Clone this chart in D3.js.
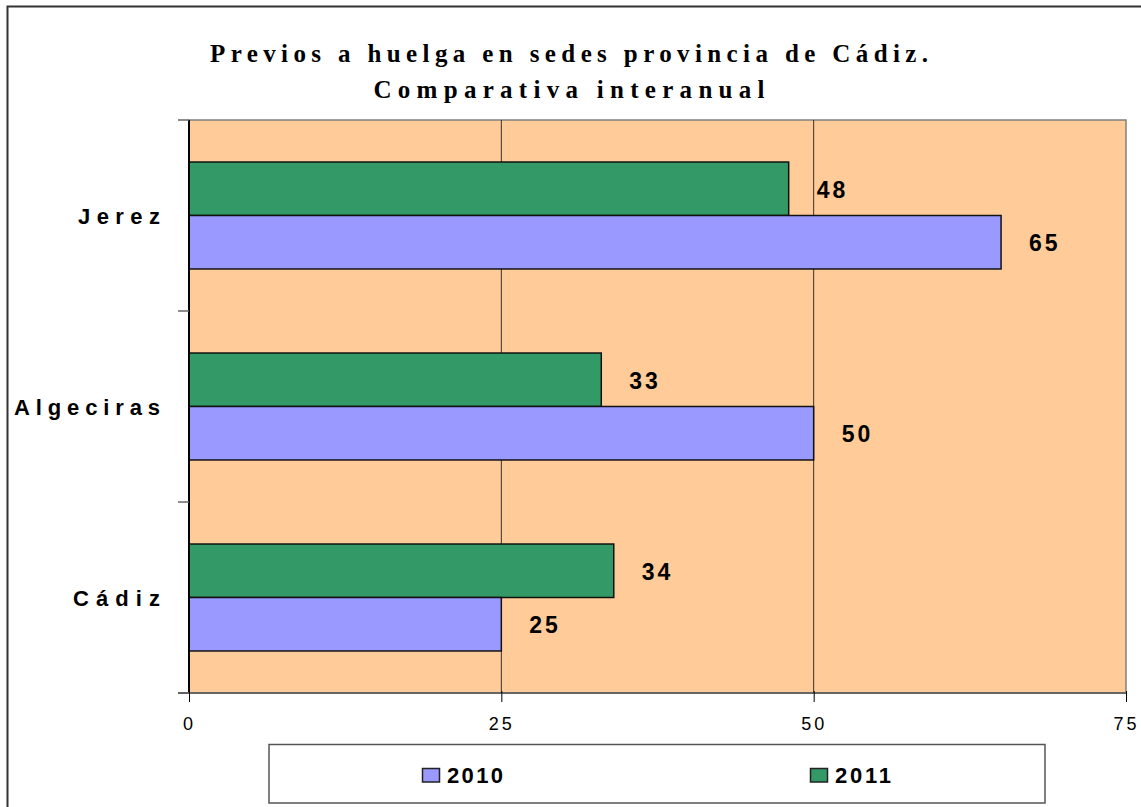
<!DOCTYPE html>
<html>
<head>
<meta charset="utf-8">
<script src="https://cdn.jsdelivr.net/npm/d3@7"></script>
<style>
  body { margin: 0; background: #fff; }
  svg { display: block; }
</style>
</head>
<body>
<div id="chart"></div>
<script>
// data
var sedes = ["Jerez", "Algeciras", "Cádiz"];
var years = ["2011", "2010"];
var values2010 = [65, 50, 25];
var values2011 = [48, 33, 34];
var xTicks = [0, 25, 50, 75];
var titleLines = ["Previos a huelga en sedes provincia de Cádiz.", "Comparativa interanual"];
var legendYears = ["2010", "2011"];

var colors = { "2010": "#9999ff", "2011": "#339966" };
var sans = "Liberation Sans, Arial, sans-serif";

var W = 1141, H = 807;
var plot = { left: 189, right: 1126, top: 120, bottom: 693 };

var svg = d3.select("#chart").append("svg")
    .attr("width", W)
    .attr("height", H);

// outer frame (right/bottom edges run off the picture)
svg.append("rect")
    .attr("x", 7.5).attr("y", 6.5)
    .attr("width", W + 10).attr("height", H + 10)
    .attr("fill", "#fff")
    .attr("stroke", "#333")
    .attr("stroke-width", 2);

// title - widths stretched like the original with textLength
var titleLayout = [{ y: 62, len: 718 }, { y: 98, len: 391 }];
svg.append("g")
    .selectAll("text")
    .data(titleLines)
    .join("text")
    .attr("x", 569)
    .attr("y", (d, i) => titleLayout[i].y)
    .attr("text-anchor", "middle")
    .attr("font-family", "Liberation Serif, Times New Roman, serif")
    .attr("font-weight", "bold")
    .attr("font-size", 25)
    .attr("textLength", (d, i) => titleLayout[i].len)
    .attr("lengthAdjust", "spacing")
    .text(d => d);

var x = d3.scaleLinear().domain([0, 75]).range([plot.left, plot.right]);
var y = d3.scaleBand().domain(sedes).range([plot.top, plot.bottom]).paddingInner(0.44).paddingOuter(0.22);
var ySub = d3.scaleBand().domain(years).range([0, y.bandwidth()]);

// plot background
svg.append("rect")
    .attr("x", plot.left).attr("y", plot.top)
    .attr("width", plot.right - plot.left)
    .attr("height", plot.bottom - plot.top)
    .attr("fill", "#ffcc99")
    .attr("stroke", "#808080")
    .attr("stroke-width", 1.5);

// vertical gridlines
svg.append("g")
    .selectAll("line")
    .data(xTicks.slice(1, -1))
    .join("line")
    .attr("x1", d => x(d)).attr("x2", d => x(d))
    .attr("y1", plot.top).attr("y2", plot.bottom)
    .attr("stroke", "#333")
    .attr("stroke-width", 1);

var rows = sedes.map((s, i) => ({ sede: s, "2010": values2010[i], "2011": values2011[i] }));

var groups = svg.append("g")
    .selectAll("g")
    .data(rows)
    .join("g")
    .attr("transform", d => "translate(0," + y(d.sede) + ")");

groups.selectAll("rect")
    .data(d => years.map(k => ({ year: k, value: d[k] })))
    .join("rect")
    .attr("x", x(0))
    .attr("y", d => ySub(d.year))
    .attr("width", d => x(d.value) - x(0))
    .attr("height", ySub.bandwidth())
    .attr("fill", d => colors[d.year])
    .attr("stroke", "#111")
    .attr("stroke-width", 1.5);

groups.selectAll("text")
    .data(d => years.map(k => ({ year: k, value: d[k] })))
    .join("text")
    .attr("x", d => x(d.value) + 28)
    .attr("y", d => ySub(d.year) + ySub.bandwidth() / 2 + 9)
    .attr("font-family", sans)
    .attr("font-weight", "bold")
    .attr("font-size", 23)
    .attr("letter-spacing", 3)
    .text(d => d.value);

// y axis
var yAxis = svg.append("g")
    .attr("transform", "translate(" + plot.left + ",0)");
yAxis.append("line")
    .attr("x1", 0).attr("x2", 0)
    .attr("y1", plot.top).attr("y2", plot.bottom)
    .attr("stroke", "#000").attr("stroke-width", 2);
var yTickPos = [plot.top].concat(sedes.map(s => y(s) + y.bandwidth() + y.step() * y.paddingInner() / 2));
yTickPos[yTickPos.length - 1] = plot.bottom;
yAxis.selectAll("line.tick")
    .data(yTickPos)
    .join("line")
    .attr("class", "tick")
    .attr("x1", -11).attr("x2", 0)
    .attr("y1", d => d).attr("y2", d => d)
    .attr("stroke", "#666").attr("stroke-width", 1.5);

var catLen = { "Jerez": 82, "Algeciras": 146, "Cádiz": 87 };
svg.append("g")
    .selectAll("text")
    .data(sedes)
    .join("text")
    .attr("x", 160)
    .attr("y", d => y(d) + y.bandwidth() / 2 + 8)
    .attr("text-anchor", "end")
    .attr("font-family", sans)
    .attr("font-weight", "bold")
    .attr("font-size", 22)
    .attr("textLength", d => catLen[d])
    .attr("lengthAdjust", "spacing")
    .text(d => d);

// x axis
var xAxis = svg.append("g")
    .attr("transform", "translate(0," + plot.bottom + ")")
    .call(d3.axisBottom(x).tickValues(xTicks).tickSize(9).tickSizeOuter(0));
xAxis.select(".domain").attr("stroke", "#555").attr("stroke-width", 1.5)
    .attr("d", "M" + (plot.left - 11) + ",0H" + plot.right);
xAxis.selectAll(".tick line").attr("stroke", "#000").attr("y1", -2);
xAxis.selectAll(".tick text")
    .attr("y", 37)
    .attr("dy", 0)
    .attr("font-family", sans)
    .attr("font-size", 18)
    .attr("letter-spacing", 3)
    .attr("fill", "#000");

// legend
var legend = svg.append("g");
legend.append("rect")
    .attr("x", 269).attr("y", 744.5)
    .attr("width", 776).attr("height", 58.5)
    .attr("fill", "#fff")
    .attr("stroke", "#555")
    .attr("stroke-width", 1.5);

var legendX = d3.scalePoint().domain(legendYears).range([422, 810]);
var li = legend.selectAll("g.item")
    .data(legendYears)
    .join("g")
    .attr("class", "item")
    .attr("transform", d => "translate(" + legendX(d) + ",768)");
li.append("rect")
    .attr("x", 0.5).attr("y", 0.5)
    .attr("width", 17).attr("height", 13.5)
    .attr("fill", d => colors[d])
    .attr("stroke", "#222").attr("stroke-width", 1.5);
li.append("text")
    .attr("x", 25).attr("y", 15)
    .attr("font-family", sans)
    .attr("font-weight", "bold")
    .attr("font-size", 22)
    .attr("textLength", 56)
    .attr("lengthAdjust", "spacing")
    .text(d => d);
</script>
</body>
</html>
